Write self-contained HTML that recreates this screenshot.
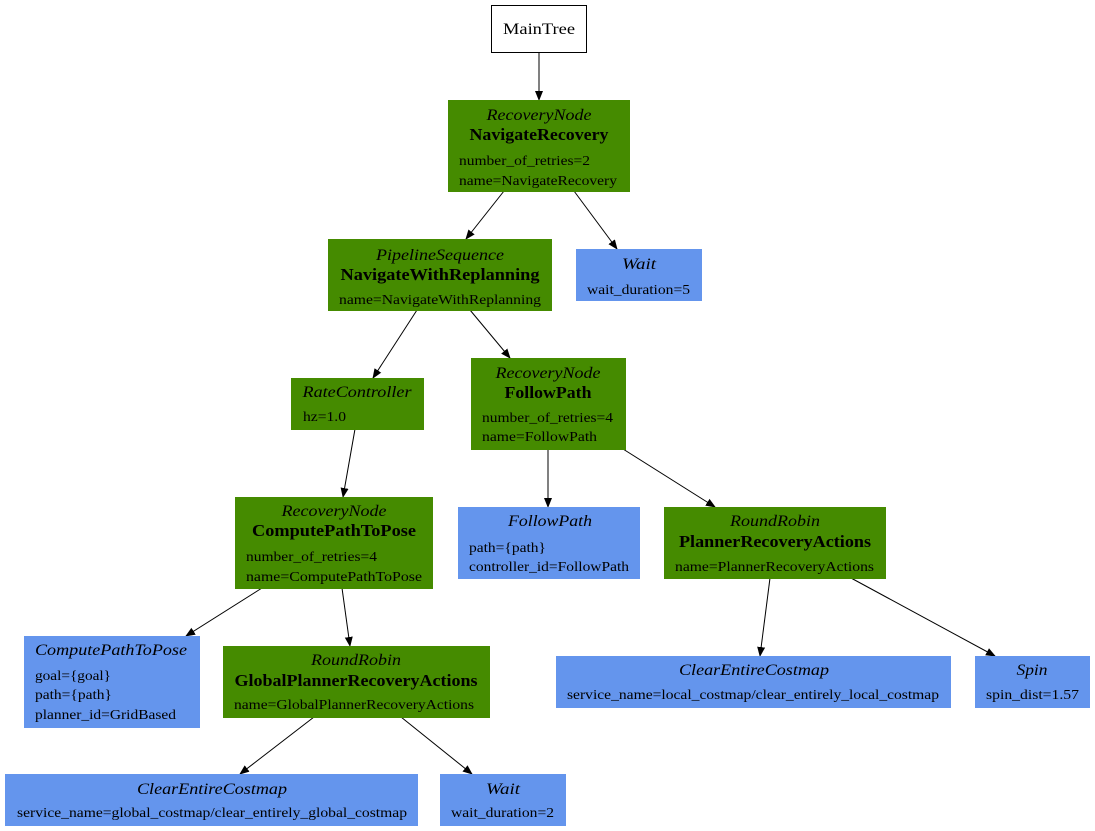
<!DOCTYPE html>
<html><head><meta charset="utf-8"><style>
html,body{margin:0;padding:0;background:#fff;}
svg{display:block;font-family:"Liberation Serif",serif;}
.i{font-style:italic;font-size:16px;text-anchor:middle}
.b{font-weight:bold;font-size:17px;text-anchor:middle}
.a{font-size:14px}
.g{fill:#458b00}
.bl{fill:#6495ed}
line{stroke:#000;stroke-width:1}
</style></head><body>
<svg width="1095" height="831" viewBox="0 0 1095 831">
<defs><marker id="ar" markerWidth="10" markerHeight="10" refX="9" refY="5" orient="auto" markerUnits="userSpaceOnUse"><path d="M0,1 L10,5 L0,9 z" fill="#000"/></marker></defs>
<g marker-end="url(#ar)">
<line x1="539" y1="52" x2="539" y2="100"/>
<line x1="504" y1="191" x2="466" y2="239"/>
<line x1="574" y1="191" x2="617" y2="249"/>
<line x1="417" y1="310" x2="373" y2="378"/>
<line x1="470" y1="310" x2="510" y2="358"/>
<line x1="355" y1="429" x2="343" y2="497"/>
<line x1="548" y1="449" x2="548" y2="507"/>
<line x1="623" y1="449" x2="715" y2="507"/>
<line x1="262" y1="588" x2="186" y2="636"/>
<line x1="342" y1="588" x2="350" y2="646"/>
<line x1="770" y1="578" x2="760" y2="656"/>
<line x1="851" y1="578" x2="995" y2="656"/>
<line x1="314" y1="717" x2="240" y2="774"/>
<line x1="401" y1="717" x2="472" y2="774"/>
</g>
<rect x="491.5" y="5.5" width="95" height="47" fill="#fff" stroke="#000"/>
<text x="539" y="34" style="font-size:16px;text-anchor:middle" textLength="72" lengthAdjust="spacingAndGlyphs">MainTree</text>

<rect class="g" x="448" y="100" width="182" height="92"/>
<text class="i" x="539" y="120" textLength="105" lengthAdjust="spacingAndGlyphs">RecoveryNode</text>
<text class="b" x="539" y="140" textLength="139" lengthAdjust="spacingAndGlyphs">NavigateRecovery</text>
<text class="a" x="459" y="165" textLength="131" lengthAdjust="spacingAndGlyphs">number_of_retries=2</text>
<text class="a" x="459" y="185" textLength="158" lengthAdjust="spacingAndGlyphs">name=NavigateRecovery</text>

<rect class="bl" x="576" y="249" width="126" height="52"/>
<text class="i" x="639" y="269" textLength="34" lengthAdjust="spacingAndGlyphs">Wait</text>
<text class="a" x="587" y="294" textLength="103" lengthAdjust="spacingAndGlyphs">wait_duration=5</text>

<rect class="g" x="328" y="239" width="224" height="72"/>
<text class="i" x="440" y="260" textLength="128" lengthAdjust="spacingAndGlyphs">PipelineSequence</text>
<text class="b" x="440" y="280" textLength="199" lengthAdjust="spacingAndGlyphs">NavigateWithReplanning</text>
<text class="a" x="339" y="304" textLength="202" lengthAdjust="spacingAndGlyphs">name=NavigateWithReplanning</text>

<rect class="g" x="291" y="378" width="133" height="52"/>
<text class="i" x="357" y="397" textLength="109" lengthAdjust="spacingAndGlyphs">RateController</text>
<text class="a" x="303" y="421" textLength="43" lengthAdjust="spacingAndGlyphs">hz=1.0</text>

<rect class="g" x="471" y="358" width="155" height="92"/>
<text class="i" x="548" y="378" textLength="105" lengthAdjust="spacingAndGlyphs">RecoveryNode</text>
<text class="b" x="548" y="398" textLength="87" lengthAdjust="spacingAndGlyphs">FollowPath</text>
<text class="a" x="482" y="422" textLength="131" lengthAdjust="spacingAndGlyphs">number_of_retries=4</text>
<text class="a" x="482" y="441" textLength="115" lengthAdjust="spacingAndGlyphs">name=FollowPath</text>

<rect class="g" x="235" y="497" width="198" height="92"/>
<text class="i" x="334" y="516" textLength="105" lengthAdjust="spacingAndGlyphs">RecoveryNode</text>
<text class="b" x="334" y="536" textLength="164" lengthAdjust="spacingAndGlyphs">ComputePathToPose</text>
<text class="a" x="246" y="561" textLength="131" lengthAdjust="spacingAndGlyphs">number_of_retries=4</text>
<text class="a" x="246" y="581" textLength="176" lengthAdjust="spacingAndGlyphs">name=ComputePathToPose</text>

<rect class="bl" x="458" y="507" width="182" height="72"/>
<text class="i" x="550" y="526" textLength="84" lengthAdjust="spacingAndGlyphs">FollowPath</text>
<text class="a" x="469" y="552" textLength="77" lengthAdjust="spacingAndGlyphs">path={path}</text>
<text class="a" x="469" y="571" textLength="160" lengthAdjust="spacingAndGlyphs">controller_id=FollowPath</text>

<rect class="g" x="664" y="507" width="222" height="72"/>
<text class="i" x="775" y="526" textLength="90" lengthAdjust="spacingAndGlyphs">RoundRobin</text>
<text class="b" x="775" y="547" textLength="192" lengthAdjust="spacingAndGlyphs">PlannerRecoveryActions</text>
<text class="a" x="675" y="571" textLength="199" lengthAdjust="spacingAndGlyphs">name=PlannerRecoveryActions</text>

<rect class="bl" x="24" y="636" width="176" height="92"/>
<text class="i" x="111" y="655" textLength="152" lengthAdjust="spacingAndGlyphs">ComputePathToPose</text>
<text class="a" x="35" y="680" textLength="76" lengthAdjust="spacingAndGlyphs">goal={goal}</text>
<text class="a" x="35" y="699" textLength="77" lengthAdjust="spacingAndGlyphs">path={path}</text>
<text class="a" x="35" y="719" textLength="141" lengthAdjust="spacingAndGlyphs">planner_id=GridBased</text>

<rect class="g" x="223" y="646" width="267" height="72"/>
<text class="i" x="356" y="665" textLength="90" lengthAdjust="spacingAndGlyphs">RoundRobin</text>
<text class="b" x="356" y="686" textLength="243" lengthAdjust="spacingAndGlyphs">GlobalPlannerRecoveryActions</text>
<text class="a" x="234" y="709" textLength="240" lengthAdjust="spacingAndGlyphs">name=GlobalPlannerRecoveryActions</text>

<rect class="bl" x="556" y="656" width="395" height="52"/>
<text class="i" x="754" y="675" textLength="150" lengthAdjust="spacingAndGlyphs">ClearEntireCostmap</text>
<text class="a" x="567" y="699" textLength="372" lengthAdjust="spacingAndGlyphs">service_name=local_costmap/clear_entirely_local_costmap</text>

<rect class="bl" x="975" y="656" width="115" height="52"/>
<text class="i" x="1032" y="675" textLength="31" lengthAdjust="spacingAndGlyphs">Spin</text>
<text class="a" x="986" y="699" textLength="93" lengthAdjust="spacingAndGlyphs">spin_dist=1.57</text>

<rect class="bl" x="5" y="774" width="413" height="52"/>
<text class="i" x="212" y="794" textLength="150" lengthAdjust="spacingAndGlyphs">ClearEntireCostmap</text>
<text class="a" x="17" y="817" textLength="390" lengthAdjust="spacingAndGlyphs">service_name=global_costmap/clear_entirely_global_costmap</text>

<rect class="bl" x="440" y="774" width="126" height="52"/>
<text class="i" x="503" y="794" textLength="34" lengthAdjust="spacingAndGlyphs">Wait</text>
<text class="a" x="451" y="817" textLength="103" lengthAdjust="spacingAndGlyphs">wait_duration=2</text>
</svg>
</body></html>
